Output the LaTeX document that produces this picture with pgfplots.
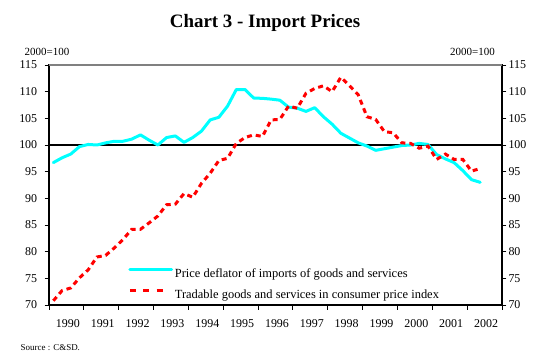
\documentclass[border=0pt]{standalone}
\usepackage{fontspec}
\setmainfont{Liberation Serif}
\usepackage{pgfplots}
\pgfplotsset{compat=1.18}
\usepackage{pgfplotstable}

\definecolor{cyanline}{RGB}{0,255,255}
\definecolor{redline}{RGB}{255,0,0}
\definecolor{frameg}{RGB}{128,128,128}

% Price deflator of imports of goods and services (quarterly)
\pgfplotstableread{
t v
1990.125 96.7
1990.375 97.6
1990.625 98.3
1990.875 99.7
1991.125 100.1
1991.375 100.0
1991.625 100.4
1991.875 100.7
1992.125 100.7
1992.375 101.1
1992.625 101.9
1992.875 100.9
1993.125 100.0
1993.375 101.4
1993.625 101.7
1993.875 100.5
1994.125 101.4
1994.375 102.6
1994.625 104.7
1994.875 105.2
1995.125 107.3
1995.375 110.4
1995.625 110.4
1995.875 108.8
1996.125 108.75
1996.375 108.6
1996.625 108.4
1996.875 107.1
1997.125 106.9
1997.375 106.3
1997.625 107.0
1997.875 105.3
1998.125 103.9
1998.375 102.2
1998.625 101.3
1998.875 100.4
1999.125 99.8
1999.375 99.0
1999.625 99.3
1999.875 99.6
2000.125 99.9
2000.375 100.0
2000.625 100.3
2000.875 100.1
2001.125 98.2
2001.375 97.4
2001.625 96.7
2001.875 95.2
2002.125 93.5
2002.375 93.0
}\deflator

% Tradable goods and services in consumer price index (quarterly)
\pgfplotstableread{
t v
1990.125 70.8
1990.375 72.7
1990.625 73.2
1990.875 75.1
1991.125 76.6
1991.375 79.0
1991.625 79.3
1991.875 80.7
1992.125 82.3
1992.375 84.2
1992.625 84.2
1992.875 85.4
1993.125 86.7
1993.375 88.8
1993.625 88.9
1993.875 90.9
1994.125 90.2
1994.375 92.8
1994.625 94.7
1994.875 97.1
1995.125 97.5
1995.375 100.3
1995.625 101.4
1995.875 101.9
1996.125 101.6
1996.375 104.7
1996.625 104.8
1996.875 107.3
1997.125 106.9
1997.375 109.7
1997.625 110.6
1997.875 111.1
1998.125 110.0
1998.375 112.7
1998.625 111.1
1998.875 109.4
1999.125 105.3
1999.375 104.8
1999.625 102.5
1999.875 102.3
2000.125 100.4
2000.375 100.3
2000.625 99.4
2000.875 99.8
2001.125 97.3
2001.375 98.3
2001.625 97.3
2001.875 97.3
2002.125 95.1
2002.375 95.6
}\tradable

\begin{document}
\begin{tikzpicture}
\path[use as bounding box] (-49bp,-56bp) rectangle (499bp,305bp);
\begin{axis}[
  at={(0bp,0bp)}, anchor=south west,
  scale only axis, width=453bp, height=240bp,
  xmin=1990, xmax=2003, ymin=70, ymax=115,
  ytick={70,75,...,115}, ytick pos=left,
  xtick={1990.5,1991.5,...,2002.5},
  xticklabels={1990,1991,1992,1993,1994,1995,1996,1997,1998,1999,2000,2001,2002},
  minor xtick={1990,1991,...,2003},
  xtick pos=bottom,
  tick align=outside,
  major tick length=4.5bp, minor tick length=4.5bp,
  major x tick style={draw=none},
  minor x tick style={black, line width=1bp},
  major y tick style={black, line width=1bp},
  axis line style={black, line width=1.3bp},
  tick label style={font=\fontsize{12}{14}\selectfont, text=black},
  /pgf/number format/assume math mode=true,
  yticklabel style={xshift=-3.8bp},
  xticklabel style={yshift=-6.5bp, xshift=1.5bp},
  legend cell align=left,
  legend style={at={(0.175,0.1533)}, anchor=north west, draw=none, fill=none,
    inner sep=0pt, row sep=8.6bp, column sep=1.7bp,
    font=\fontsize{12.5}{14}\selectfont,
    nodes={inner sep=0pt, text height=9bp, text depth=3bp}},
  legend image code/.code={\draw[#1] (0bp,4.5bp) -- (41.7bp,4.5bp);},
]
\addplot[black, line width=2bp, forget plot] coordinates {(1990,100) (2003,100)};
\addplot[cyanline, line width=3bp, line cap=round, line join=round] table[x=t,y=v] {\deflator};
\addlegendentry{Price deflator of imports of goods and services}
\addplot[redline, line width=3bp, dash pattern=on 5bp off 4bp,
  legend image code/.code={\draw[redline, line width=3bp, dash pattern=on 6bp off 7.3bp] (0bp,4.5bp) -- (33.4bp,4.5bp);}]
  table[x=t,y=v] {\tradable};
\addlegendentry{Tradable goods and services in consumer price index}
\end{axis}
\begin{axis}[
  at={(0bp,0bp)}, anchor=south west,
  scale only axis, width=453bp, height=240bp,
  xmin=1990, xmax=2003, ymin=70, ymax=115,
  hide x axis, axis y line*=right,
  ytick={70,75,...,115},
  tick align=outside, major tick length=4.5bp,
  major y tick style={black, line width=1bp},
  axis line style={black, line width=1.3bp},
  tick label style={font=\fontsize{12}{14}\selectfont, text=black},
  /pgf/number format/assume math mode=true,
  yticklabel style={xshift=-1.5bp},
]
\end{axis}
\draw[frameg, line width=1.3bp] (0bp,240bp) -- (453bp,240bp);
\node[font=\fontsize{19}{22}\selectfont\bfseries, anchor=base] at (216bp,277.5bp) {Chart 3 - Import Prices};
\node[font=\fontsize{11}{12}\selectfont] at (-2bp,253.3bp) {2000=100};
\node[font=\fontsize{11}{12}\selectfont] at (423.5bp,253.3bp) {2000=100};
\node[font=\fontsize{9}{11}\selectfont, anchor=west, inner sep=0pt] at (-28.5bp,-43bp) {Source : C\&SD.};
\end{tikzpicture}
\end{document}
